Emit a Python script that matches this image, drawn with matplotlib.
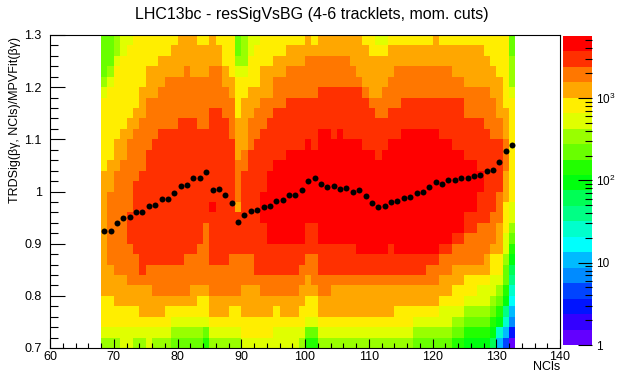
import colorsys
import numpy as np
import matplotlib
matplotlib.use("Agg")
import matplotlib.pyplot as plt
from matplotlib.colors import ListedColormap, LogNorm
from matplotlib.ticker import MultipleLocator, FuncFormatter, FixedLocator, FixedFormatter

plt.rcParams["font.family"] = ["Liberation Sans", "DejaVu Sans"]
plt.rcParams["mathtext.default"] = "regular"

# binning of the 2D histogram (NCls 68..133, ratio 0.70..1.30)
ncls_edges = np.arange(68, 134, 1)
ratio_edges = np.linspace(0.70, 1.30, 31)

# colour level of each cell (0 = violet ... j = red),
# one string per NCls bin, from ratio 1.29 (top) down to 0.71 (bottom)
level_cols = [
    "ccccdefffffffggggggggggggfffed",  # 68
    "cccdefffffffggghhhhhhhgggfffed",
    "ddefffffffggghhhhhhhhhhgggffed",
    "eefffffffggghhhhhhhhhhhgggffee",
    "efffffffgghhhhhhhiiihhhhggffee",
    "fffffffgghhhhhiiiiiiihhhggffed",
    "fffffggghhhhhiiiiiiiiiihgggfed",
    "fffggghhhhhiiiiiiiiiiihhgggfee",
    "fffggghhhhiiiiiiiiiiiihhhggfed",
    "ffggghhhhiiiiiiiiiiiiihhhggfed",
    "ffgghhhhhiiiiiiiiiiiiihhhgffed",  # 78
    "fggghhhhhiiiiiiiiiiiiihhhgfedc",
    "gggghhhhiiiiiiiiiiiiiihhhgfedc",
    "ggghhhhhiiiiiiiiiiiiihhhhgfedc",
    "gggghhhhiiiiiiiiiiiiihhhggfedc",
    "fggghhhhhiiiiiiiiiiihhhhgffedc",
    "fggghhhhhiiiiiiiiihhhhhhgffecb",
    "ggghhhhiiiiiiiiijiiiiihhhggfed",  # 85
    "fgghhhhiiiiiiiiiiiiiiihhhggfed",
    "fffgghhhiiiiiiiiiiiiiihhhggfed",
    "ffffgghhhhiiiiiiiiiiihhhhgffed",  # 88
    "ccdeffffgggghhhhgiiiihhhhgffed",
    "dddeffggggghhiiiiiiiihhhgggffe",
    "eefffggghhhiiiiiiiiiihhhgggffe",
    "effffgghhhiiiiiiiiiiiiihgggffe",
    "fffggghhhiiiiiijjjiiiiihhggffe",
    "fffggghhiiiiijjjjjjjiiihhggffe",
    "ffgghhhiiiiijjjjjjjjiiihhgffee",
    "ffgghhhiiiiijjjjjjjjiiihhggfee",
    "fgghhhiiiiijjjjjjjjjiiihhggfee",
    "fgghhhiiiiijjjjjjjjjiiihhggfee",  # 98
    "fgghhhiiiiijjjjjjjjjiihhggffed",
    "gghhhhiiiijjjjjjjjiiihhggffecb",
    "fghhhhiiiiijjjjjjjiiihhhgffecb",
    "gghhhiiiijjjjjjjjjjjiiihhggfed",  # 102
    "gghhhiiiijjjjjjjjjjjiiihhggfed",
    "gghhhiiiiijjjjjjjjjjiiihgggfed",
    "gghhhiiiijjjjjjjjjjjiiihgggfed",
    "gghhhiiiiijjjjjjjjjjiiihgggfed",
    "ggghhiiiiijjjjjjjjjjiiihgggfed",
    "gggghiiiiijjjjjjjjjjjiihgggfed",  # 108
    "fgggghiiiiijjjjjjjjjjiihgggfed",
    "ffgggghiiiijjjjjjjjjjiihgggfed",
    "efgggghhiiiijjjjjjjjjiihgggfed",
    "efggghhhiiijjjjjjjjjjiihgggfed",
    "fggghhhiiijjjjjjjjjjiiihgggfed",
    "fgghhhhiiijjjjjjjjjjjiihggffed",
    "fgghhhiiijjjjjjjjjjjjiihggffed",
    "fgghhhiiijjjjjjjjjjjjiihggffed",
    "fgghhhiiijjjjjjjjjjjjiihggfedc",
    "fgghhhiiijjjjjjjjjjjjiihggfedc",  # 118
    "fgghhhiiijjjjjjjjjjjjihhggfedc",
    "ggghhhiiijjjjjjjjjjjjihhggfedc",
    "fgghhhiiiijjjjjjjjjjihhggfeedc",
    "fgghhhiiiijjjjjjjjjjihhggfeedc",
    "fggghhiiiiijjjjjjjjihhggffedcb",
    "fggghhiiiiijjjjjjjjihhggffedcb",
    "fgggghhhiiiijjjjjiihhhgffedcba",
    "fgggghhhiiiijjjjjiihhhgffedcba",
    "fgggghhhiiiiijjiiihhhhgfeedcba",
    "ffggghhhhiiiiiiiiihhhggfeedcba",  # 128
    "fffggghhhhiiiiiiihhhgffeedcba9",
    "ffffgggghhiiiiihhhgggffedcba75",
    "fffffffggghhhgggfffeedccba8753",
    "ccdddeffffffffffeedcba98765420",  # 132
]
level_chars = "0123456789abcdefghij"

# mean of each NCls bin (black points)
prof_x = np.arange(68.5, 133.0, 1.0)
prof_y = [
    0.925, 0.925, 0.939, 0.949, 0.951, 0.960, 0.960, 0.973, 0.974, 0.985,
    0.985, 0.998, 1.010, 1.013, 1.025, 1.025, 1.037, 1.002, 1.005, 0.993,
    0.977, 0.942, 0.954, 0.963, 0.964, 0.971, 0.972, 0.982, 0.983, 0.993,
    0.993, 1.002, 1.021, 1.025, 1.014, 1.009, 1.011, 1.004, 1.007, 0.999,
    1.002, 0.992, 0.978, 0.970, 0.972, 0.980, 0.981, 0.988, 0.990, 0.998,
    0.999, 1.008, 1.018, 1.015, 1.023, 1.022, 1.026, 1.026, 1.030, 1.031,
    1.039, 1.041, 1.057, 1.077, 1.090,
]

# z range of the palette (log)
z_min, z_max = 1.0, 5660.0
n_levels = 20

# ROOT-like violet->red palette, 20 contours
band_colors = []
for i in range(n_levels):
    j = int((i + 0.99) * 50 / n_levels)
    hue = (280.0 - (j + 1) * 5.6) / 360.0
    band_colors.append(colorsys.hls_to_rgb(max(hue, 0.0), 0.5, 1.0))
cmap = ListedColormap(band_colors)
norm = LogNorm(vmin=z_min, vmax=z_max)

lz = np.log10(z_max)
levels = np.array([[level_chars.index(ch) for ch in col[::-1]] for col in level_cols]).T
counts = 10 ** ((levels + 0.5) * lz / n_levels)

fig = plt.figure(figsize=(6.19, 3.73), dpi=100)
ax = fig.add_axes([50 / 619, 1 - 348 / 373, 510 / 619, 313 / 373])
mesh = ax.pcolormesh(ncls_edges, ratio_edges, counts, cmap=cmap, norm=norm,
                     shading="flat", antialiased=False, edgecolors="none")
ax.plot(prof_x, prof_y, "o", color="black", markersize=4.3, markeredgewidth=0)

ax.set_xlim(60, 140)
ax.set_ylim(0.7, 1.3)
ax.xaxis.set_major_locator(MultipleLocator(10))
ax.xaxis.set_minor_locator(MultipleLocator(2))
ax.yaxis.set_major_locator(MultipleLocator(0.1))
ax.yaxis.set_minor_locator(MultipleLocator(0.02))
ax.yaxis.set_major_formatter(FuncFormatter(lambda v, p: f"{v:g}"))
ax.tick_params(which="both", direction="in", top=False, right=False, labelsize=9, width=0.8)
ax.tick_params(axis="x", which="major", length=6.5, pad=2)
ax.tick_params(axis="x", which="minor", length=3.4)
ax.tick_params(axis="y", which="major", length=11, pad=6)
ax.tick_params(axis="y", which="minor", length=5.5)
for s in ax.spines.values():
    s.set_linewidth(0.8)

fig.text(0.504, 1 - 15 / 373, "LHC13bc - resSigVsBG (4-6 tracklets, mom. cuts)",
         ha="center", va="center", fontsize=11.5)
fig.text(15 / 619, 1 - 37 / 373, "TRDSig(βγ, NCls)/MPVFit(βγ)", rotation=90,
         ha="center", va="top", fontsize=9)
fig.text(560 / 619, 1 - 367 / 373, "NCls", ha="right", va="center", fontsize=9)

# palette
cax = fig.add_axes([563 / 619, 1 - 345 / 373, 29 / 619, 309 / 373])
cb = fig.colorbar(mesh, cax=cax)
cb.outline.set_visible(False)
cax.yaxis.set_ticks_position("right")
cax.yaxis.set_major_locator(FixedLocator([1, 10, 100, 1000]))
cax.yaxis.set_major_formatter(FixedFormatter(["1", "10", "$10^{2}$", "$10^{3}$"]))
cax.tick_params(which="both", direction="in", labelsize=8.5, width=0.8, colors="black")
cax.tick_params(which="major", length=10, pad=3)
cax.tick_params(which="minor", length=5)

fig.savefig("out.png", dpi=100)
